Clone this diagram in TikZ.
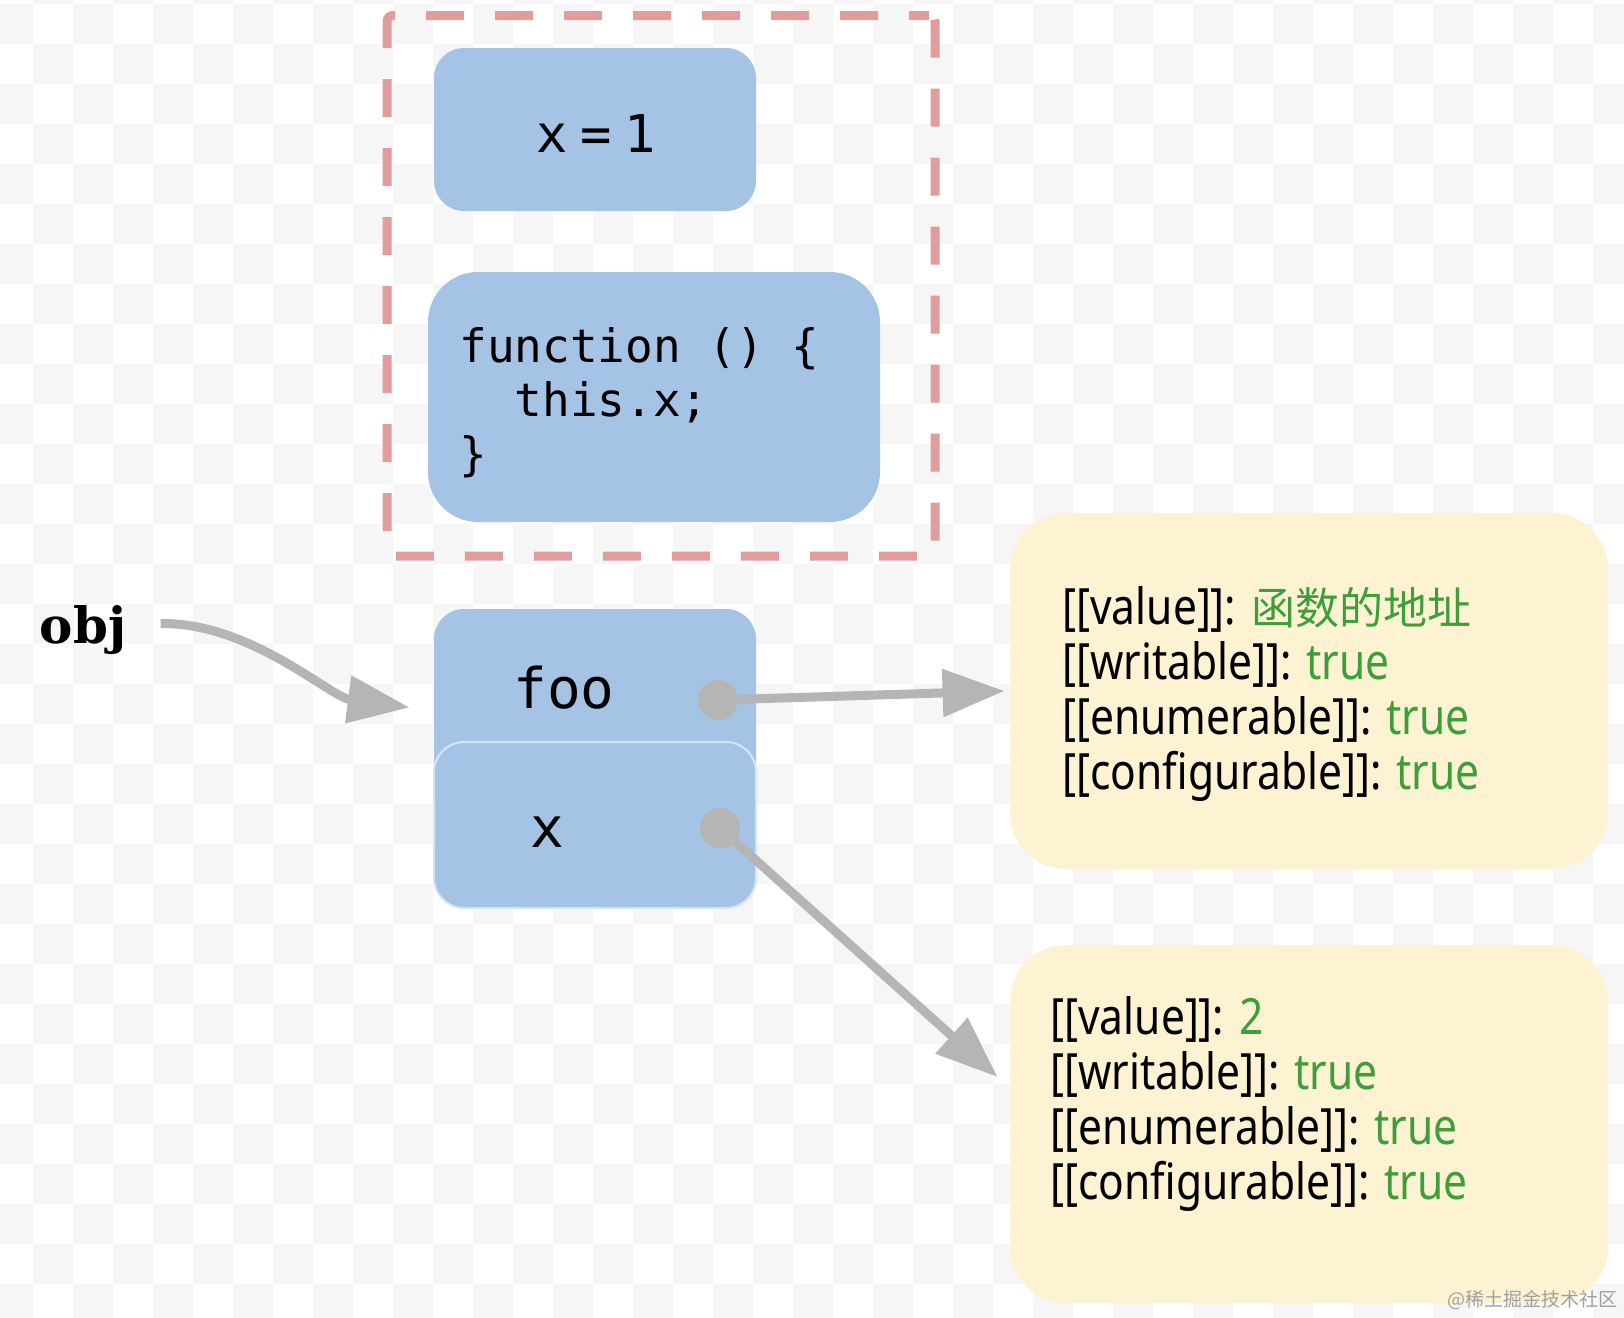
\documentclass[tikz,border=0pt]{standalone}
\usepackage{fontspec}
\usetikzlibrary{arrows.meta}
\newfontfamily\monofont{DejaVu Sans Mono}
\newfontfamily\propfont{Noto Sans}[FakeStretch=0.85]
\newfontfamily\cjkfont{Noto Sans CJK SC}
\newfontfamily\objfont{DejaVu Serif}
\definecolor{boxblue}{HTML}{A5C3E4}
\definecolor{boxedge}{HTML}{D6E5F5}
\definecolor{valyellow}{HTML}{FDF3D3}
\definecolor{dashred}{HTML}{E19C9C}
\definecolor{arrowgray}{HTML}{B5B5B5}
\definecolor{valgreen}{HTML}{3E9E3A}
\definecolor{checker}{HTML}{F6F6F6}
\definecolor{wmgray}{HTML}{A0A0A0}
\newcommand{\gr}[1]{\textcolor{valgreen}{#1}}
\begin{document}
\begin{tikzpicture}[x=0.5pt,y=-0.5pt,
  bluebox/.style={fill=boxblue, rounded corners=15pt, minimum width=161pt, inner sep=0pt},
  yellowbox/.style={fill=valyellow, rounded corners=28pt, minimum width=299pt, minimum height=178pt, inner sep=0pt},
  ptr/.style={draw=arrowgray, line width=4.5pt, -{Triangle[length=31pt,width=23pt]}},
  lbl/.style={inner sep=0pt, font=\monofont\fontsize{28pt}{30pt}\selectfont},
  valtext/.style={inner sep=0pt, align=left, anchor=north west, font=\propfont\fontsize{25pt}{27.5pt}\selectfont}]
\useasboundingbox (0,0) rectangle (1624,1318);
\clip (0,0) rectangle (1624,1318);
\fill[white] (0,0) rectangle (1624,1318);
\foreach \i in {0,...,41}{
  \pgfmathtruncatemacro\off{mod(\i+1,2)}
  \foreach \j in {0,2,...,34}{
    \pgfmathtruncatemacro\jj{\j+\off}
    \fill[checker] (\i*40-7, \jj*40-36) rectangle ++(40,40);
  }
}
% dashed frame
\node[draw=dashred, line width=4.5pt, dash pattern=on 19pt off 15.5pt, dash phase=9pt, rounded corners=3pt,
      minimum width=274pt, minimum height=270.25pt, inner sep=0pt] (frame) at (661,285.75) {};
% closure boxes
\node[bluebox, minimum height=81.5pt] (xeq) at (595,129.5) {};
\node[lbl, font=\monofont\fontsize{26pt}{28pt}\selectfont, anchor=base] (xeqtext) at (596,152)
  {\fontdimen2\font=0.4\fontdimen2\font x = 1};
\node[bluebox, rounded corners=25pt, minimum width=226pt, minimum height=125pt] (func) at (654,397) {};
\node[inner sep=0pt, anchor=north west, align=left, font=\monofont\fontsize{23pt}{27pt}\selectfont] (code) at (459,327)
  {function~()~\{\\\hspace*{27.7pt}this.x;\\\}};
% object boxes
\node[bluebox, minimum height=90.5pt] (foo) at (595,699.5) {};
\node[bluebox, draw=boxedge, line width=1pt, minimum height=83pt] (xbox) at (595,825) {};
\node[lbl, anchor=base] (foolabel) at (564,708) {foo};
\node[lbl, anchor=base] (xlabel) at (547,847) {x};
% obj label
\node[inner sep=0pt, anchor=base, font=\objfont\bfseries\fontsize{25pt}{27pt}\selectfont] (obj) at (83,643) {obj};
% property descriptors
\node[yellowbox] (val1) at (1309,691) {};
\node[yellowbox, minimum height=179pt] (val2) at (1309,1124) {};
\node[valtext] (val1text) at (1062,586)
  {[[value]]: \gr{{\cjkfont\fontsize{22pt}{27.5pt}\selectfont 函数的地址}}\\{}[[writable]]: \gr{true}\\{}[[enumerable]]: \gr{true}\\{}[[configurable]]: \gr{true}};
\node[valtext] (val2text) at (1050,996)
  {[[value]]: \gr{2}\\{}[[writable]]: \gr{true}\\{}[[enumerable]]: \gr{true}\\{}[[configurable]]: \gr{true}};
% pointers
\coordinate (foodot) at (718,700);
\coordinate (xdot) at (720,828);
\draw[ptr] ([xshift=17pt,yshift=3pt]obj.east) .. controls (250,622) and (330,697) .. ([xshift=-12pt,yshift=-4pt]foo.west);
\draw[ptr] (foodot) -- ([xshift=-2.5pt]val1.west);
\draw[ptr] (xdot) -- ([xshift=-6pt,yshift=23.5pt]val2.west);
\fill[arrowgray] (foodot) circle (10pt);
\fill[arrowgray] (xdot) circle (10pt);
% watermark
\node[inner sep=0pt, anchor=east, text=wmgray, font=\cjkfont\fontsize{9.5pt}{10pt}\selectfont] (wm) at (1618,1300) {@稀土掘金技术社区};
\end{tikzpicture}
\end{document}
